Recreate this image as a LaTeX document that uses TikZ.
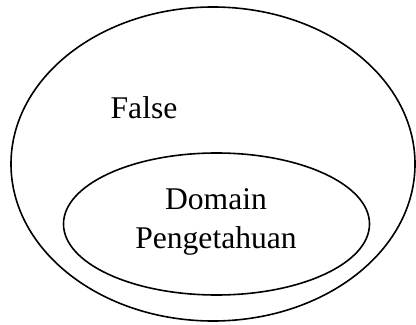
\documentclass[tikz,border=0pt]{standalone}
\usepackage{fontspec}
\setmainfont{Liberation Serif}

\tikzset{
    label text/.style={anchor=base,inner sep=0pt,font=\rmfamily\fontsize{15.8}{19}\selectfont},
    set line/.style={line width=0.8pt}
}

\begin{document}
\begin{tikzpicture}[x=0.5pt,y=-0.5pt]
        \useasboundingbox (0,0) rectangle (416,325);

        % outer set
        \draw[set line] (213,164) ellipse [x radius=101pt,y radius=78.5pt];
        \node[label text] (false) at (144,119) {False};

        % inner set
        \draw[set line,fill=white] (216.5,224) ellipse [x radius=76.5pt,y radius=35.5pt];
        \node[label text] (domain) at (216,210) {Domain};
        \node[label text] (pengetahuan) at (216,248) {Pengetahuan};

    \end{tikzpicture}
\end{document}
